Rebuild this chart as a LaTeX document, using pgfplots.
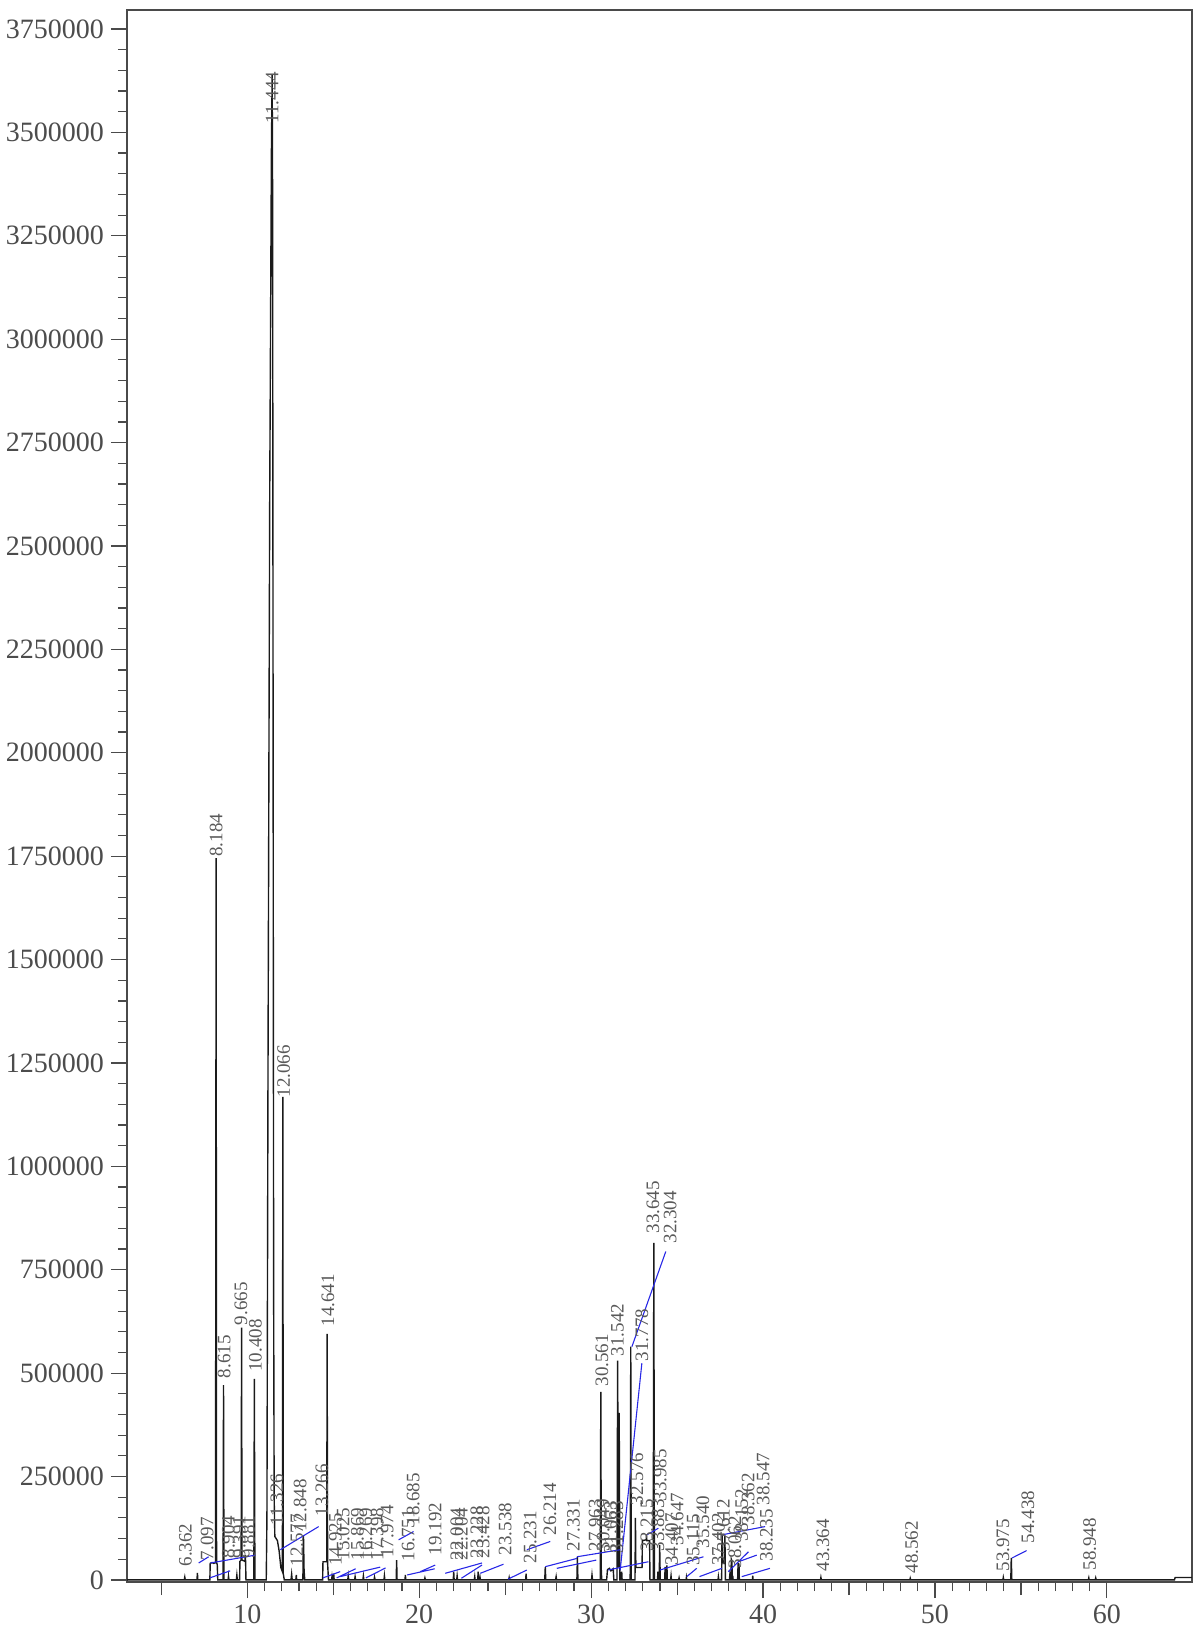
\documentclass[border=0pt]{standalone}
\usepackage{fontspec}
\setmainfont{Liberation Serif}
\usepackage{pgfplots}
\pgfplotsset{compat=1.18}

\definecolor{tracecol}{HTML}{1a1a1a}
\definecolor{leadcol}{RGB}{40,40,230}
\definecolor{axcol}{HTML}{4a4a4a}

% peak label: time, bottom of label, text
\newcommand{\pk}[3]{\node[rotate=90, anchor=west, inner sep=0.6pt,
  font=\fontsize{9.5}{10}\selectfont, text=black!65] at (axis cs:#1,#2) {#3};}

\begin{document}
\begin{tikzpicture}
\begin{axis}[
    width=532.5pt, height=786pt, scale only axis=true,
    xmin=3, xmax=64.95, ymin=-5000, ymax=3796000,
    axis line style={axcol, line width=0.7pt},
    tick style={axcol, line width=0.6pt},
    tick align=outside, xtick pos=bottom, ytick pos=left,
    major tick length=8pt, minor tick length=4.5pt,
    xtick={10,20,...,60}, minor x tick num=9,
    extra x ticks={5,15,25,35,45,55}, extra x tick labels={},
    extra x tick style={major tick length=6.5pt},
    ytick={0,250000,...,3750000}, minor y tick num=4,
    scaled y ticks=false,
    ticklabel style={font=\fontsize{14}{16}\selectfont, text=black!70},
    /pgf/number format/assume math mode=true,
    yticklabel style={/pgf/number format/fixed, /pgf/number format/1000 sep={}},
    unbounded coords=jump,
  ]
\addplot[tracecol, line width=0.7pt] coordinates {
  (3,0)
  (6.33,0)(6.362,7000)(6.39,0)
  (7.07,0)(7.097,17000)(7.12,0)
  (7.82,0)(7.84,40000)(7.95,42000)(8.05,40000)(8.15,42000)(8.184,1745000)(8.21,40000)(8.25,38000)(8.28,0)
  (8.59,0)(8.615,471000)(8.64,0)
  (8.88,0)(8.904,9000)(8.93,0)
  (9.36,0)(9.391,12000)(9.42,0)
  (9.55,0)(9.57,45000)(9.64,48000)(9.665,610000)(9.69,48000)(9.86,45000)(9.881,60000)(9.90,44000)(9.92,0)
  (10.38,0)(10.408,486000)(10.44,0)
  (11.10,0)(11.14,150000)(11.20,1200000)(11.30,2600000)(11.40,3450000)(11.444,3640000)(11.47,3350000)
  (11.50,2000000)(11.53,700000)(11.56,200000)(11.60,105000)(11.75,95000)(11.85,70000)(11.95,30000)
  (12.04,20000)(12.066,1168000)(12.09,15000)(12.15,0)
  (12.54,0)(12.577,14000)(12.61,0)
  (12.82,0)(12.848,12000)(12.87,0)
  (13.23,0)(13.266,108000)(13.30,24000)(13.34,0)
  (14.38,0)(14.40,44000)(14.62,44000)(14.641,595000)(14.67,40000)(14.72,0)
  (14.90,0)(14.925,8000)(14.95,0)
  (15.00,0)(15.025,15000)(15.05,0)
  (15.84,0)(15.869,10000)(15.90,0)
  (16.24,0)(16.269,8000)(16.30,0)
  (16.72,0)(16.751,10000)(16.78,0)
  (17.37,0)(17.398,7000)(17.43,0)
  (17.95,0)(17.974,10000)(18.00,0)
  (18.66,0)(18.685,48000)(18.71,0)
  (19.17,0)(19.192,12000)(19.22,0)
  (20.30,0)(20.33,5000)(20.36,0)
  (21.98,0)(22.004,20000)(22.03,0)
  (22.18,0)(22.204,10000)(22.23,0)
  (23.20,0)(23.228,8000)(23.25,0)
  (23.40,0)(23.428,20000)(23.46,0)
  (23.51,0)(23.538,6000)(23.56,0)
  (25.20,0)(25.231,6000)(25.26,0)
  (26.19,0)(26.214,15000)(26.24,0)
  (27.30,0)(27.331,31000)(27.36,0)
  (27.93,0)(27.963,8000)(27.99,0)
  (29.17,0)(29.20,55000)(29.23,0)
  (30.02,0)(30.049,12000)(30.08,0)
  (30.53,0)(30.561,455000)(30.59,20000)(30.62,0)
  (30.90,0)(30.95,25000)(31.063,28000)(31.15,22000)(31.283,27000)(31.32,0)
  (31.50,0)(31.542,530000)(31.58,30000)(31.63,404000)(31.67,0)
  (31.75,0)(31.778,20000)(31.80,0)
  (32.27,0)(32.304,564000)(32.33,0)
  (32.55,0)(32.576,150000)(32.60,30000)(32.96,30000)(32.98,95000)(33.20,97000)(33.215,110000)(33.24,95000)(33.40,95000)(33.42,0)
  (33.61,0)(33.645,815000)(33.68,0)
  (33.86,0)(33.883,20000)(33.90,0)
  (33.96,0)(33.985,85000)(34.02,0)
  (34.28,0)(34.30,30000)(34.34,30000)(34.36,0)
  (34.38,0)(34.407,35000)(34.43,0)
  (34.62,0)(34.647,10000)(34.67,0)
  (35.09,0)(35.115,5000)(35.14,0)
  (35.52,0)(35.540,6000)(35.56,0)
  (37.38,0)(37.402,8000)(37.43,0)
  (37.59,0)(37.612,110000)(37.65,40000)(37.75,40000)(37.78,108000)(37.81,0)
  (38.04,0)(38.062,10000)(38.09,0)
  (38.13,0)(38.152,50000)(38.19,45000)(38.21,0)
  (38.22,0)(38.235,10000)(38.26,0)
  (38.52,0)(38.547,40000)(38.60,38000)(38.62,0)
  (39.38,0)(39.40,10000)(39.42,0)
  (43.34,0)(43.364,6000)(43.39,0)
  (48.54,0)(48.562,4000)(48.59,0)
  (53.95,0)(53.975,6000)(54.00,0)
  (54.41,0)(54.438,53000)(54.47,0)
  (58.92,0)(58.948,5000)(58.97,0)
  (59.32,0)(59.35,5000)(59.38,0)
  (63.93,0)(63.97,6000)(64.95,6000)
};
% leader lines from the labels to their peaks
\addplot[leadcol, line width=0.55pt] coordinates {
  (7.17,41000)(7.75,56000) (nan,nan)
  (7.85,41000)(10.47,60000) (nan,nan)
  (7.82,5000)(9.0,22000) (nan,nan)
  (11.92,73000)(14.15,129000) (nan,nan)
  (14.4,5000)(15.4,20000) (nan,nan)
  (15.2,5000)(16.3,27000) (nan,nan)
  (15.4,8000)(17.73,31000) (nan,nan)
  (16.9,5000)(18.04,29000) (nan,nan)
  (18.8,97000)(19.67,117000) (nan,nan)
  (19.3,12000)(20.9,27000) (nan,nan)
  (20.06,20000)(20.93,36000) (nan,nan)
  (21.51,16000)(23.65,41000) (nan,nan)
  (22.45,4000)(23.65,36000) (nan,nan)
  (23.55,16000)(24.9,38000) (nan,nan)
  (25.17,2000)(26.26,24000) (nan,nan)
  (26.26,73000)(27.62,93000) (nan,nan)
  (27.33,32000)(29.17,52000) (nan,nan)
  (28.0,28000)(30.3,48000) (nan,nan)
  (29.17,56000)(31.69,73000) (nan,nan)
  (31.0,24000)(33.33,44000) (nan,nan)
  (33.24,109000)(33.91,125000) (nan,nan)
  (34.01,24000)(36.53,56000) (nan,nan)
  (35.56,8000)(36.14,28000) (nan,nan)
  (36.3,8000)(37.6,28000) (nan,nan)
  (37.6,109000)(40.12,129000) (nan,nan)
  (37.98,20000)(39.15,68000) (nan,nan)
  (38.57,44000)(39.63,60000) (nan,nan)
  (38.76,8000)(40.4,28000) (nan,nan)
  (34.34,794000)(32.37,564000) (nan,nan)
  (32.95,524000)(31.69,24000) (nan,nan)
  (54.48,53000)(55.33,71000)
};
\pk{6.40}{29000}{6.362}
\pk{7.66}{44000}{7.097}
\pk{8.90}{48000}{8.904}
\pk{9.53}{48000}{9.391}
\pk{10.06}{48000}{9.881}
\pk{8.184}{1745000}{8.184}
\pk{8.66}{484000}{8.615}
\pk{9.63}{612000}{9.665}
\pk{10.47}{500000}{10.408}
\pk{11.444}{3518000}{11.444}
\pk{11.72}{128000}{11.326}
\pk{12.12}{1163000}{12.066}
\pk{12.89}{29000}{12.577}
\pk{13.08}{113000}{12.848}
\pk{14.34}{150000}{13.266}
\pk{14.69}{609000}{14.641}
\pk{15.12}{31000}{14.925}
\pk{15.58}{44000}{15.025}
\pk{16.40}{44000}{15.869}
\pk{16.90}{44000}{16.269}
\pk{17.56}{44000}{17.398}
\pk{18.14}{50000}{17.974}
\pk{19.36}{41000}{16.751}
\pk{19.65}{128000}{18.685}
\pk{20.93}{56000}{19.192}
\pk{22.19}{44000}{22.004}
\pk{22.45}{44000}{22.204}
\pk{23.35}{48000}{23.228}
\pk{23.72}{48000}{23.428}
\pk{25.00}{56000}{23.538}
\pk{26.45}{36000}{25.231}
\pk{27.60}{104000}{26.214}
\pk{28.97}{65000}{27.331}
\pk{30.23}{65000}{27.963}
\pk{30.70}{65000}{30.049}
\pk{31.12}{60000}{31.063}
\pk{31.50}{60000}{31.283}
\pk{30.62}{464000}{30.561}
\pk{31.53}{537000}{31.542}
\pk{32.95}{525000}{31.778}
\pk{34.59}{810000}{32.304}
\pk{33.60}{834000}{33.645}
\pk{32.66}{177000}{32.576}
\pk{33.24}{65000}{33.215}
\pk{33.88}{65000}{33.883}
\pk{34.02}{186000}{33.985}
\pk{34.69}{31000}{34.407}
\pk{35.00}{80000}{34.647}
\pk{35.93}{31000}{35.115}
\pk{36.50}{73000}{35.540}
\pk{37.40}{31000}{37.402}
\pk{37.70}{65000}{37.612}
\pk{38.37}{24000}{38.062}
\pk{38.76}{89000}{38.152}
\pk{39.13}{128000}{38.362}
\pk{40.00}{177000}{38.547}
\pk{40.20}{41000}{38.235}
\pk{43.49}{17000}{43.364}
\pk{48.65}{12000}{48.562}
\pk{53.95}{17000}{53.975}
\pk{55.40}{85000}{54.438}
\pk{59.00}{19000}{58.948}
\end{axis}
\pgfresetboundingbox
\path ([xshift=-63.5pt,yshift=-27pt]current axis.south west) rectangle ([xshift=1pt,yshift=5pt]current axis.north east);
\end{tikzpicture}
\end{document}
